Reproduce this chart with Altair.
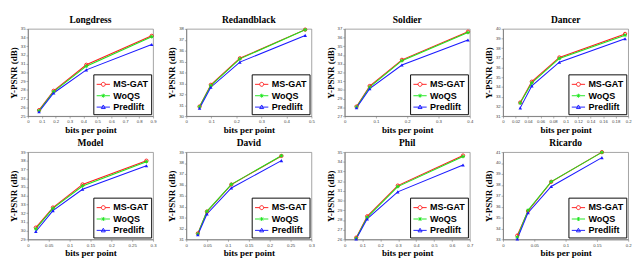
import altair as alt
import pandas as pd

series = ["MS-GAT", "WoQS", "Predlift"]
colors = ["#ff1a1a", "#1ee61e", "#1a1aff"]

titles = ["Longdress", "Redandblack", "Soldier", "Dancer", "Model", "David", "Phil", "Ricardo"]

bpp = {
    "Longdress": [0.08, 0.185, 0.42, 0.89],
    "Redandblack": [0.053, 0.098, 0.214, 0.475],
    "Soldier": [0.038, 0.08, 0.183, 0.394],
    "Dancer": [0.0275, 0.046, 0.09, 0.195],
    "Model": [0.019, 0.06, 0.131, 0.284],
    "David": [0.0277, 0.0495, 0.108, 0.228],
    "Phil": [0.0645, 0.126, 0.297, 0.662],
    "Ricardo": [0.0228, 0.040, 0.077, 0.158],
}
ms_gat = {
    "Longdress": [25.68, 27.9, 30.88, 34.2],
    "Redandblack": [30.88, 32.87, 35.3, 37.93],
    "Soldier": [28.1, 30.45, 33.45, 36.68],
    "Dancer": [32.4, 34.55, 37.05, 39.48],
    "Model": [30.35, 32.65, 35.3, 38.02],
    "David": [31.55, 33.55, 36.03, 38.65],
    "Phil": [26.18, 28.38, 31.55, 34.65],
    "Ricardo": [33.35, 35.6, 38.28, 41.0],
}
woqs = {
    "Longdress": [25.62, 27.8, 30.72, 34.1],
    "Redandblack": [30.85, 32.8, 35.25, 37.92],
    "Soldier": [28.05, 30.33, 33.35, 36.58],
    "Dancer": [32.35, 34.42, 36.95, 39.35],
    "Model": [30.2, 32.55, 35.12, 37.9],
    "David": [31.5, 33.57, 36.05, 38.67],
    "Phil": [26.12, 28.28, 31.45, 34.55],
    "Ricardo": [33.2, 35.68, 38.3, 40.98],
}
predlift = {
    "Longdress": [25.5, 27.65, 30.3, 33.2],
    "Redandblack": [30.72, 32.65, 34.95, 37.4],
    "Soldier": [27.95, 30.15, 32.85, 35.73],
    "Dancer": [31.85, 34.12, 36.56, 38.98],
    "Model": [29.9, 32.3, 34.75, 37.45],
    "David": [31.42, 33.33, 35.72, 38.22],
    "Phil": [26.05, 28.12, 30.9, 33.68],
    "Ricardo": [33.05, 35.45, 37.85, 40.5],
}
x_ticks = {
    "Longdress": [0, 0.1, 0.2, 0.3, 0.4, 0.5, 0.6, 0.7, 0.8, 0.9],
    "Redandblack": [0, 0.1, 0.2, 0.3, 0.4, 0.5],
    "Soldier": [0, 0.1, 0.2, 0.3, 0.4],
    "Dancer": [0, 0.02, 0.04, 0.06, 0.08, 0.1, 0.12, 0.14, 0.16, 0.18, 0.2],
    "Model": [0, 0.05, 0.1, 0.15, 0.2, 0.25, 0.3],
    "David": [0, 0.05, 0.1, 0.15, 0.2, 0.25, 0.3],
    "Phil": [0, 0.1, 0.2, 0.3, 0.4, 0.5, 0.6, 0.7],
    "Ricardo": [0, 0.05, 0.1, 0.15, 0.2],
}
y_ticks = {
    "Longdress": list(range(25, 36)),
    "Redandblack": list(range(30, 39)),
    "Soldier": list(range(27, 38)),
    "Dancer": list(range(31, 41)),
    "Model": list(range(29, 40)),
    "David": list(range(31, 40)),
    "Phil": list(range(26, 36)),
    "Ricardo": list(range(33, 42)),
}

ASTER = "M-1,0L1,0M0,-1L0,1M-0.7,-0.7L0.7,0.7M-0.7,0.7L0.7,-0.7"
LEG_CIRCLE = "M-1,0L-0.3,0M0.3,0L1,0M0.3,0A0.3,0.3 0 1,1 -0.3,0A0.3,0.3 0 1,1 0.3,0"
LEG_ASTER = "M-1,0L1,0M0,-0.3L0,0.3M-0.21,-0.21L0.21,0.21M-0.21,0.21L0.21,-0.21"
LEG_TRI = "M-1,0L1,0M0,-0.32L0.3,0.22L-0.3,0.22Z"

marker_shapes = ["circle", ASTER, "triangle-up"]
marker_sizes = [12, 14, 14]
marker_fills = [False, False, True]
legend_shapes = [LEG_CIRCLE, LEG_ASTER, LEG_TRI]

STY = dict(title=None, orient="bottom-right", offset=2, padding=3, strokeColor="black",
           fillColor="white", cornerRadius=0,
           labelFont="Liberation Sans", labelFontWeight="bold", labelFontSize=9.5,
           labelColor="black", symbolSize=196, symbolStrokeWidth=1, symbolOpacity=1,
           symbolFillColor="transparent", rowPadding=0, labelOffset=3)


def panel(name):
    rows = []
    for s, src in zip(series, [ms_gat, woqs, predlift]):
        for b, v in zip(bpp[name], src[name]):
            rows.append({"series": s, "bpp": b, "psnr": v})
    df = pd.DataFrame(rows)
    xt, yt = x_ticks[name], y_ticks[name]
    x = alt.X("bpp:Q", scale=alt.Scale(domain=[xt[0], xt[-1]], nice=False),
              axis=alt.Axis(values=xt, format="~g", title="bits per point"))
    y = alt.Y("psnr:Q", scale=alt.Scale(domain=[yt[0], yt[-1]], nice=False, zero=False),
              axis=alt.Axis(values=yt, title="Y-PSNR (dB)"))
    base = alt.Chart(df)
    line = base.mark_line(strokeWidth=1.1).encode(
        x=x, y=y,
        color=alt.Color("series:N", scale=alt.Scale(domain=series, range=colors),
                        legend=alt.Legend(**STY)),
    )
    layers = [line]
    for s, c, shp, sz, f in zip(series, colors, marker_shapes, marker_sizes, marker_fills):
        layers.append(
            base.transform_filter(alt.datum.series == s).mark_point(
                shape=shp, size=sz, strokeWidth=1, opacity=1, color=c, filled=f
            ).encode(x=x, y=y)
        )
    # invisible carrier that adds line+marker symbols to the same legend
    carrier = base.mark_point(filled=False, strokeWidth=1, opacity=0).encode(
        x=x, y=y,
        shape=alt.Shape("series:N", scale=alt.Scale(domain=series, range=legend_shapes),
                        legend=alt.Legend(**STY)),
    )
    layers.append(carrier)
    return alt.layer(*layers).properties(width=132, height=92, title=name)


ind = dict(color="independent", shape="independent")

row1 = alt.hconcat(*[panel(n) for n in titles[:4]], spacing=10).resolve_scale(**ind).resolve_legend(**ind)
row2 = alt.hconcat(*[panel(n) for n in titles[4:]], spacing=10).resolve_scale(**ind).resolve_legend(**ind)

chart = alt.vconcat(row1, row2, spacing=2, padding=0).resolve_scale(**ind).resolve_legend(**ind).configure_axis(
    grid=False,
    labelFont="Liberation Sans", labelFontSize=4.5, labelColor="#444",
    labelPadding=1, labelFlush=False, labelOverlap=False,
    tickSize=2, tickColor="#777", tickWidth=0.6,
    domainColor="#777", domainWidth=0.8,
    titleFont="Liberation Serif", titleFontWeight="bold", titleFontSize=9.5,
    titleColor="black", titlePadding=2,
).configure_view(stroke="#888", strokeWidth=0.8).configure_title(
    font="Liberation Serif", fontSize=10, fontWeight="bold", color="black", offset=1
)

chart.save("out.html", embed_options={"renderer": "svg", "actions": False})
